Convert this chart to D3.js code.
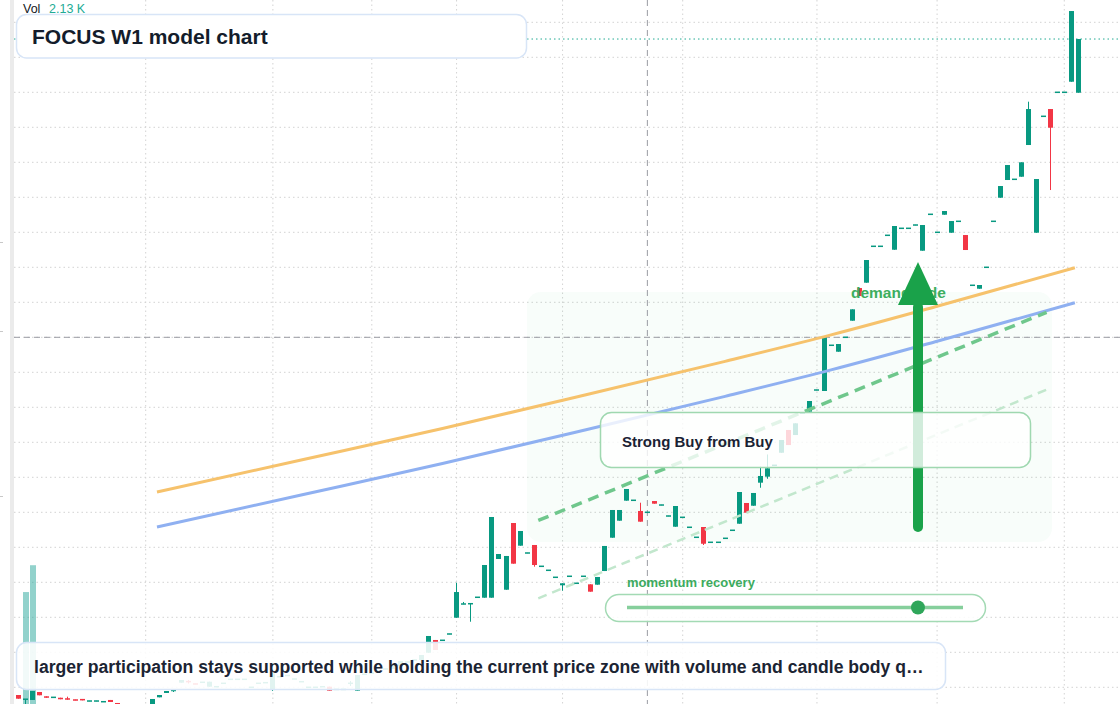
<!DOCTYPE html>
<html><head><meta charset="utf-8">
<script src="https://cdn.jsdelivr.net/npm/d3@7"></script>
<style>
html,body{margin:0;padding:0;background:#fff;overflow:hidden}
svg{display:block}
text{font-family:"Liberation Sans",Arial,Helvetica,sans-serif}
</style></head>
<body><svg id="c" width="1120" height="704"></svg>
<script>
// ---------- data (weekly bars, index 0..150) ----------
const opens = [
 8.90, 8.26, 8.19, 9.33, 8.71, 8.54, 8.51, 8.43, 8.23, 8.33,
 8.01, 8.01, 7.91, 8.19, 7.76, 7.19, 6.59, 6.61, 6.19, 7.04,
 8.57, 9.19, 9.50,10.66,10.86,10.51,10.69,10.09,10.06,10.54,
 11.11,11.11,11.11, 9.97,10.54,10.63, 9.61,11.49,11.61,11.16,
 10.77, 9.97, 9.97,10.06,10.09, 9.69, 9.69,10.54, 9.51,11.83,
 11.97,12.30,12.59,12.61,13.04,13.59,13.87,13.90,14.94,16.76,
 16.69,17.59,19.94,21.86,21.91,22.83,22.80,22.80,28.33,23.94,
 33.47,30.23,29.16,30.33,27.26,26.69,25.69,24.57,25.83,24.83,
 25.83,24.71,24.66,26.61,31.37,33.80,36.66,36.69,35.19,34.97,
 36.61,36.01,34.44,32.94,34.26,32.83,31.40,32.90,30.69,30.69,
 31.26,32.40,33.37,36.33,35.94,39.23,40.09,41.69,43.51,46.76,
 46.04,49.16,49.37,52.44,52.33,58.83,57.94,59.97,62.37,67.04,
 67.80,72.97,72.97,74.54,72.51,75.54,75.54,76.01,72.37,77.54,
 74.97,77.51,74.94,76.54,74.61,67.40,66.94,69.97,76.54,79.94,
 82.47,82.54,82.94,87.47,74.94,91.54,92.61,94.97,94.97,96.51,94.94];
const closes = [
 8.37, 8.33, 9.47, 8.86, 8.51, 8.59, 8.29, 8.23, 8.14, 8.14,
 8.07, 8.07, 7.97, 7.90, 7.19, 6.76, 6.64, 6.19, 6.90, 8.33,
 8.90, 9.47, 9.59,11.04,10.76,10.44,10.74,10.80,10.11,10.60,
 11.17,11.17,11.17,10.03,10.60,10.69,12.00,11.54,11.76,11.21,
 10.83,10.03,10.03,10.11, 9.51, 9.74, 9.74,10.60,11.76,11.89,
 12.03,12.36,12.64,13.19,13.76,13.64,13.93,14.61,17.33,15.33,
 16.74,17.64,23.61,21.94,21.97,22.89,27.47,34.33,29.04,28.76,
 27.66,32.33,29.21,27.47,27.31,26.74,25.74,24.86,25.89,24.89,
 25.89,23.66,25.76,30.19,35.33,35.33,38.33,36.74,33.66,35.03,
 36.23,36.07,34.50,35.90,34.31,32.89,31.46,30.51,30.74,30.74,
 31.31,32.46,37.90,34.94,37.76,40.19,41.29,41.74,45.33,44.61,
 47.71,49.21,50.90,52.50,60.00,58.89,59.04,60.03,64.00,65.90,
 71.04,73.03,73.03,74.60,75.90,75.60,75.60,76.07,76.04,77.60,
 75.03,78.04,76.61,76.60,72.47,67.46,67.47,70.03,76.60,81.61,
 84.61,82.60,85.00,92.61,82.61,91.60,89.94,95.03,95.03,106.61,102.61];
const highs = [
 8.90, 8.33, 9.47, 9.33, 8.71, 8.59, 8.51, 8.66, 8.23, 8.33,
 8.07, 8.07, 7.97, 8.19, 7.76, 7.19, 6.64, 6.61, 6.90, 8.33,
 8.90, 9.47, 9.59,11.04,11.04,10.51,10.74,10.80,10.11,10.60,
 11.17,11.17,11.17,10.03,10.60,10.69,12.00,11.54,11.76,11.21,
 10.83,10.03,10.03,10.11,10.09, 9.74, 9.74,10.90,11.76,11.89,
 12.03,12.36,12.64,13.19,13.76,13.64,13.93,14.61,17.33,16.76,
 16.74,17.64,24.94,22.19,21.97,22.89,27.47,34.33,29.04,28.76,
 33.47,32.33,29.21,30.33,27.31,26.74,25.74,24.86,25.89,24.89,
 25.89,24.71,25.76,30.19,35.33,35.33,38.33,36.74,36.37,35.03,
 36.61,36.07,34.50,35.90,34.31,32.89,31.46,32.90,30.74,30.74,
 31.31,32.46,37.90,36.33,37.76,41.51,43.26,41.74,45.33,46.76,
 47.71,49.21,50.90,52.50,60.00,58.89,59.04,60.03,64.00,67.04,
 71.04,73.03,73.03,74.60,75.90,75.60,75.60,76.07,76.04,77.60,
 75.03,78.04,76.61,76.60,74.61,67.46,67.47,70.03,76.60,81.61,
 84.61,82.60,85.00,93.66,82.61,91.60,92.61,95.03,95.03,106.61,102.61];
const lows = [
 8.37, 7.04, 8.19, 8.86, 8.51, 8.54, 8.29, 8.23, 8.14, 8.14,
 8.01, 8.01, 7.91, 7.90, 7.19, 6.76, 6.59, 6.19, 6.19, 7.04,
 8.57, 9.19, 9.33,10.66,10.54,10.44,10.69,10.09,10.06,10.54,
 11.11,11.11,11.11, 9.97,10.54,10.63, 9.47,11.49,11.61,11.16,
 10.77, 9.97, 9.97,10.06, 9.51, 9.69, 9.69,10.19, 9.51,11.83,
 11.97,12.30,12.59,12.61,13.04,13.59,13.87,13.90,14.94,15.33,
 16.69,17.59,19.94,21.86,19.37,22.83,22.80,22.80,28.33,23.94,
 27.66,30.23,29.16,27.23,27.26,26.69,25.69,23.80,25.83,24.83,
 25.83,23.66,24.66,26.61,31.37,33.80,36.66,36.69,33.66,34.97,
 36.23,36.01,34.44,32.94,34.26,32.83,31.40,30.33,30.69,30.69,
 31.26,32.40,33.37,34.94,35.94,38.51,39.79,41.69,43.51,44.61,
 46.04,49.16,49.37,52.44,52.33,58.83,57.94,59.97,62.37,65.90,
 67.80,72.97,72.97,74.54,72.51,75.54,75.54,76.01,72.37,77.54,
 74.97,77.51,74.94,76.54,72.47,67.40,66.94,69.97,76.54,79.94,
 82.47,82.54,82.94,87.47,74.94,91.54,81.04,94.97,94.97,96.51,94.94];
const volumes = [
 140,1770,2130,180, 90, 70, 60, 80, 55, 70,
  40, 45, 50, 65,110, 95, 60, 85,100,150,
 120, 90, 80,140, 60, 50, 55, 90, 45, 50,
  40, 35, 40, 60, 45, 40,160, 70, 60, 45,
  50, 55, 40, 45, 80, 50, 40, 60,140, 60,
  50, 45, 55, 70, 80, 50, 45, 90,120,100,
  60, 70,180, 90, 80, 60,160,200,120,150,
 190,140, 80,130, 70, 60, 70, 80, 60, 50,
  60, 90, 80,150,170,120,140, 70,110, 60,
  80, 60, 70,120, 60, 70, 80,110, 60, 50,
  60, 70,160,100,120, 90,100, 60,110,120,
 100, 60, 90, 70,200, 80, 90, 70,110,120,
 150, 60, 50, 70,130, 50, 40, 60,140, 60,
  70,100,110, 60,120,140, 80, 90,130,110,
 120, 70,100,180,200, 80,160, 60, 50,210,180];
const gridPrices = [10,15,20,25,30,35,40,45,50,55,60,65,70,75,80,85,90,95,100,105];
const gridBars = [18,36,50,62,77,94,113,130,148];
const leftScaleTicks = [73.57, 60.9, 37.37];
const crosshairBar = 89, crosshairPrice = 60;
const maBars   = [19.6, 40, 60, 80, 100, 115, 130, 149.5];
const maOrange = [37.90, 42.47, 46.97, 51.71, 56.56, 60.34, 64.43, 69.94];
const maBlue   = [32.90, 37.47, 41.97, 46.71, 51.56, 55.34, 59.43, 64.94];
const channelUpper = [[73.56, 33.83], [145.5, 63.57]];
const channelLower = [[73.56, 22.71], [145.7, 52.61]];
const demandZone = {fromBar: 71.96, toBar: 146.26, top: 66.47, bottom: 30.76};
const arrowBar = 127.3, arrowFrom = 32.19, arrowTo = 70.76;
const momentumValue = 0.866;
const titleText = "FOCUS W1 model chart";
const zoneLabel = "demand side";
const signalText = "Strong Buy from Buy";
const momentumLabel = "momentum recovery";
const noteText = "larger participation stays supported while holding the current price zone with volume and candle body q\u2026";
const volLabel = "Vol", volValue = "2.13 K";

// ---------- scales ----------
const svg = d3.select('#c');
const x = d3.scaleLinear().domain([0,150]).range([18.5, 1078.4]);
const y = d3.scaleLinear().domain([10,105]).range([687.3, 22.3]);
const yv = d3.scaleLinear().domain([0,2200]).range([724, 560]);
const UP = '#089981', DOWN = '#f23645';

svg.append('rect').attr('width',1120).attr('height',704).attr('fill','#fff');
// left scale border strip + ticks
svg.append('rect').attr('x',10).attr('y',0).attr('width',4).attr('height',704).attr('fill','#ebebeb');
svg.selectAll('.lt').data(leftScaleTicks).enter().append('line')
  .attr('x1',0).attr('x2',3).attr('y1',d=>Math.round(y(d))+0.5).attr('y2',d=>Math.round(y(d))+0.5)
  .attr('stroke','#c8c8c8');

// grid
const g = svg.append('g');
g.selectAll('.hg').data(gridPrices).enter().append('line')
  .attr('x1',14).attr('x2',1120).attr('y1',d=>y(d)).attr('y2',d=>y(d))
  .attr('stroke','#d3d3d3').attr('stroke-dasharray','1.5,3');
g.selectAll('.vg').data(gridBars).enter().append('line')
  .attr('y1',0).attr('y2',704).attr('x1',d=>x(d)).attr('x2',d=>x(d))
  .attr('stroke','#d3d3d3').attr('stroke-dasharray','1.5,3');

// demand zone
svg.append('rect')
  .attr('x',x(demandZone.fromBar)).attr('y',y(demandZone.top))
  .attr('width',x(demandZone.toBar)-x(demandZone.fromBar))
  .attr('height',y(demandZone.bottom)-y(demandZone.top))
  .attr('rx',14).attr('fill','rgba(40,180,80,0.03)');

// crosshair
svg.append('line').attr('x1',14).attr('x2',1120).attr('y1',y(crosshairPrice)).attr('y2',y(crosshairPrice))
  .attr('stroke','#9a9ca3').attr('stroke-dasharray','6,4');
svg.append('line').attr('y1',0).attr('y2',704).attr('x1',x(crosshairBar)).attr('x2',x(crosshairBar))
  .attr('stroke','#9a9ca3').attr('stroke-dasharray','6,4');

// last price line
const lastClose = closes[closes.length-1];
svg.append('line').attr('x1',14).attr('x2',1120).attr('y1',y(lastClose)).attr('y2',y(lastClose))
  .attr('stroke','#22ab94').attr('stroke-dasharray','1.5,3');

// volume
svg.append('g').selectAll('rect').data(volumes).enter().append('rect')
  .attr('x',(d,i)=>Math.round(x(i)-3)).attr('width',6)
  .attr('y',d=>yv(d)).attr('height',d=>yv(0)-yv(d))
  .attr('fill',(d,i)=>closes[i]>=opens[i]?'rgba(38,166,154,0.5)':'rgba(239,83,80,0.5)');

// candles
const cg = svg.append('g');
opens.forEach((o,i)=>{
  const c = closes[i], col = c>=o?UP:DOWN;
  const bx = Math.round(x(i)-2.5);
  const yh = y(highs[i]), yl = y(lows[i]);
  cg.append('rect').attr('x',bx+2).attr('width',1).attr('y',yh).attr('height',Math.max(0,yl-yh)).attr('fill',col);
  const t = y(Math.max(o,c)), b = y(Math.min(o,c));
  const h = Math.max(1.5,b-t);
  cg.append('rect').attr('x',bx).attr('width',5).attr('y',(t+b)/2-h/2).attr('height',h).attr('fill',col);
});

// moving averages
const line = d3.line().x(d=>x(d[0])).y(d=>y(d[1])).curve(d3.curveMonotoneX);
svg.append('path').attr('d',line(maBars.map((b,i)=>[b,maOrange[i]])))
  .attr('fill','none').attr('stroke','#f6c26c').attr('stroke-width',3);
svg.append('path').attr('d',line(maBars.map((b,i)=>[b,maBlue[i]])))
  .attr('fill','none').attr('stroke','#8fb0f1').attr('stroke-width',3);

// channel
const sl = d3.line().x(d=>x(d[0])).y(d=>y(d[1]));
svg.append('path').attr('d',sl(channelUpper)).attr('fill','none')
  .attr('stroke','#6fc78c').attr('stroke-width',3.5).attr('stroke-dasharray','11,7');
svg.append('path').attr('d',sl(channelLower)).attr('fill','none')
  .attr('stroke','#c2e7cd').attr('stroke-width',2.5).attr('stroke-dasharray','9,6');

// zone label
svg.append('text').attr('x',851).attr('y',298).attr('font-size',15.5).attr('font-weight','bold')
  .attr('fill','#3dae5e').text(zoneLabel);

// arrow
const ax = x(arrowBar), ayTip = y(arrowTo), ayBase = ayTip+43;
svg.append('line').attr('x1',ax).attr('x2',ax).attr('y1',y(arrowFrom)-5).attr('y2',ayBase+2)
  .attr('stroke','#1aa24a').attr('stroke-width',10).attr('stroke-linecap','round');
svg.append('path').attr('d',`M${ax},${ayTip}L${ax+20},${ayBase}L${ax-20},${ayBase}Z`).attr('fill','#1aa24a');

// signal box
svg.append('rect').attr('x',600.5).attr('y',412.5).attr('width',430).attr('height',55).attr('rx',11)
  .attr('fill','rgba(255,255,255,0.8)').attr('stroke','#9fd8b0').attr('stroke-width',1.5);
svg.append('text').attr('x',622).attr('y',447).attr('font-size',15).attr('font-weight','bold')
  .attr('fill','#1a2233').text(signalText);

// momentum
svg.append('text').attr('x',627).attr('y',587).attr('font-size',13).attr('font-weight','bold')
  .attr('fill','#3dab5e').text(momentumLabel);
svg.append('rect').attr('x',605.5).attr('y',594.5).attr('width',380).attr('height',27).attr('rx',13.5)
  .attr('fill','rgba(255,255,255,0.85)').attr('stroke','#a3dab4').attr('stroke-width',1.5);
const mx = d3.scaleLinear().domain([0,1]).range([627,963]);
svg.append('line').attr('x1',mx(0)).attr('x2',mx(1)).attr('y1',607.5).attr('y2',607.5)
  .attr('stroke','#86cf9c').attr('stroke-width',3.5);
svg.append('circle').attr('cx',mx(momentumValue)).attr('cy',607.5).attr('r',7).attr('fill','#2fa65a');

// title box
svg.append('rect').attr('x',16.5).attr('y',14.5).attr('width',510).attr('height',43.5).attr('rx',10)
  .attr('fill','#fff').attr('stroke','#d8e5f7').attr('stroke-width',1.5);
svg.append('text').attr('x',32).attr('y',43.5).attr('font-size',21).attr('font-weight','bold')
  .attr('fill','#131c2b').text(titleText);

// vol legend
svg.append('text').attr('x',23).attr('y',13).attr('font-size',12.5).attr('fill','#131722').text(volLabel);
svg.append('text').attr('x',49).attr('y',13).attr('font-size',12.5).attr('fill','#22ab94').text(volValue);

// bottom note
svg.append('rect').attr('x',16.5).attr('y',642.5).attr('width',929).attr('height',47).attr('rx',10)
  .attr('fill','rgba(255,255,255,0.88)').attr('stroke','#d8e5f7').attr('stroke-width',1.5);
svg.append('text').attr('x',34).attr('y',672.5).attr('font-size',17.6).attr('font-weight','bold')
  .attr('fill','#1b2433').text(noteText);
</script></body></html>
